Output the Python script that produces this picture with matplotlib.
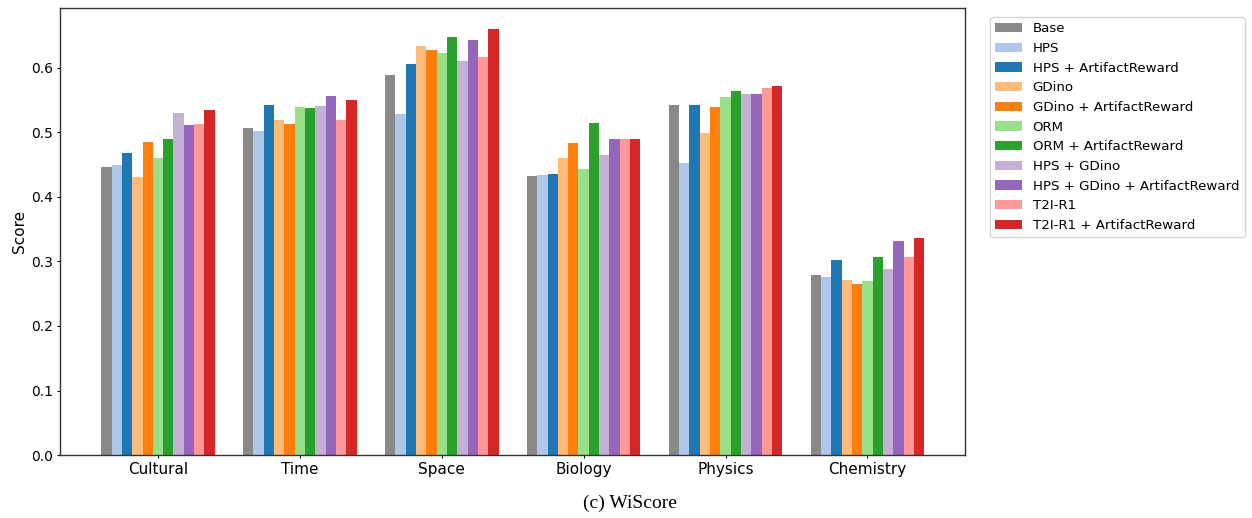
import numpy as np
import matplotlib.pyplot as plt

# categorias y series
categorias = ["Cultural", "Time", "Space", "Biology", "Physics", "Chemistry"]

metodos = [
    "Base", "HPS", "HPS + ArtifactReward", "GDino", "GDino + ArtifactReward",
    "ORM", "ORM + ArtifactReward", "HPS + GDino", "HPS + GDino + ArtifactReward",
    "T2I-R1", "T2I-R1 + ArtifactReward",
]

base = [0.447, 0.507, 0.589, 0.433, 0.543, 0.279]
hps = [0.450, 0.502, 0.529, 0.434, 0.453, 0.276]
hps_ar = [0.468, 0.543, 0.606, 0.436, 0.543, 0.302]
gdino = [0.431, 0.519, 0.634, 0.460, 0.499, 0.271]
gdino_ar = [0.485, 0.513, 0.628, 0.484, 0.540, 0.265]
orm = [0.460, 0.540, 0.623, 0.443, 0.555, 0.270]
orm_ar = [0.490, 0.538, 0.648, 0.515, 0.564, 0.307]
hps_gdino = [0.530, 0.541, 0.611, 0.465, 0.560, 0.288]
hps_gdino_ar = [0.512, 0.557, 0.643, 0.490, 0.560, 0.332]
t2i = [0.513, 0.519, 0.617, 0.490, 0.569, 0.307]
t2i_ar = [0.535, 0.550, 0.660, 0.490, 0.572, 0.336]

valores = [base, hps, hps_ar, gdino, gdino_ar, orm, orm_ar,
           hps_gdino, hps_gdino_ar, t2i, t2i_ar]

colores = ["#898989", "#aec7e8", "#1f77b4", "#ffbb78", "#ff7f0e",
           "#98df8a", "#2ca02c", "#c5b0d5", "#9467bd", "#ff9896", "#d62728"]

# ============================================================
# GRAFICO
# ============================================================

fig = plt.figure(figsize=(12.52, 5.18), dpi=100)
ax = fig.add_axes([0.048, 0.1216, 0.723, 0.863])

x = np.arange(len(categorias))
n = len(metodos)
ancho = 0.8 / n

for i, (nombre, vals, c) in enumerate(zip(metodos, valores, colores)):
    ax.bar(x - 0.4 + ancho * (i + 0.5), vals, ancho, color=c, label=nombre)

ax.set_xticks(x)
ax.set_xticklabels(categorias, fontsize=11)
ax.set_ylabel("Score", fontsize=11, labelpad=3)
ax.tick_params(axis="y", labelsize=10)
ax.tick_params(length=2, pad=3)
for s in ax.spines.values():
    s.set_linewidth(1.0)
    s.set_color("#333333")

ax.legend(loc="upper left", bbox_to_anchor=(1.02, 0.995), fontsize=9.6)

fig.text(0.503, 0.029, "(c) WiScore", ha="center", va="center",
         fontsize=14, family="Liberation Serif")

plt.savefig("out.png", dpi=100)
